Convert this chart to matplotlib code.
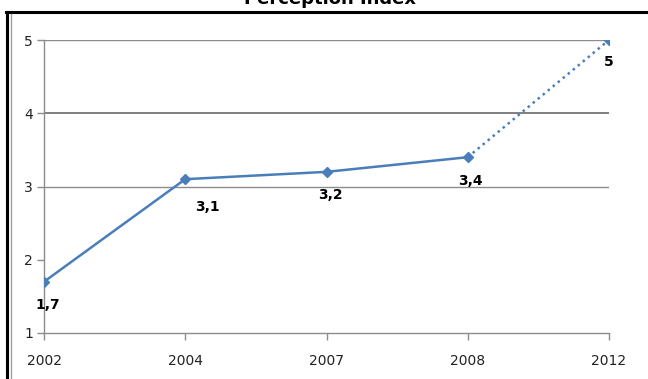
import matplotlib
matplotlib.use("Agg")
import matplotlib.pyplot as plt
from matplotlib.lines import Line2D

years = ["2002", "2004", "2007", "2008", "2012"]
values = [1.7, 3.1, 3.2, 3.4, 5.0]
labels = ["1,7", "3,1", "3,2", "3,4", "5"]
yticks = [1, 2, 3, 4, 5]
title = "Perception Index"

W, H = 648, 379
fig = plt.figure(figsize=(W / 100, H / 100), dpi=100)
ax = fig.add_axes([44 / W, 1 - 333 / H, (609 - 44) / W, (333 - 40) / H])

color = "#4A7EBB"
x = list(range(len(years)))
ax.plot(x[:4], values[:4], color=color, lw=1.8, marker="D", ms=5, zorder=3)
ax.plot(x[3:], values[3:], color=color, lw=1.8, ls=(0, (1, 1.6)), marker="D", ms=5,
        markevery=[1], zorder=3)

offsets = [(3, -17), (16, -20), (3, -17), (2, -17), (0, -16)]
for xi, v, lab, off in zip(x, values, labels, offsets):
    ax.annotate(lab, (xi, v), xytext=off, textcoords="offset points",
                ha="center", va="center", fontsize=10, fontweight="bold",
                family="DejaVu Sans", color="black")

ax.set_xlim(0, 4)
ax.set_ylim(1, 5)
ax.set_xticks(x)
ax.set_xticklabels(years)
ax.set_yticks(yticks)
ax.set_yticklabels([str(t) for t in yticks])
for gy, lw, c in [(3, 1.0, "#8c8c8c"), (4, 1.4, "#7f7f7f"), (5, 1.0, "#8c8c8c")]:
    ax.axhline(gy, color=c, lw=lw, zorder=1)

for s in ["top", "right"]:
    ax.spines[s].set_visible(False)
for s in ["left", "bottom"]:
    ax.spines[s].set_color("#8c8c8c")
    ax.spines[s].set_linewidth(1.0)
ax.tick_params(axis="both", colors="#8c8c8c", labelcolor="#222222", labelsize=10,
               length=5, width=1)
ax.tick_params(axis="x", pad=10)
ax.tick_params(axis="y", pad=3)
for t in ax.get_xticklabels() + ax.get_yticklabels():
    t.set_family("DejaVu Sans")

fig.text(330 / W, 1 - 4 / H, title, ha="center", va="baseline", fontsize=13,
         fontweight="bold", family="DejaVu Sans")

fig.add_artist(Line2D([6 / W, 1], [1 - 12 / H, 1 - 12 / H], color="black", lw=2.2,
                      transform=fig.transFigure))
fig.add_artist(Line2D([7 / W, 7 / W], [0, 1 - 12 / H], color="black", lw=2.2,
                      transform=fig.transFigure))
fig.add_artist(Line2D([10.5 / W, 10.5 / W], [0, 1 - 14 / H], color="#a0a0a0", lw=1.0,
                      transform=fig.transFigure))

fig.savefig("out.png", dpi=100)
